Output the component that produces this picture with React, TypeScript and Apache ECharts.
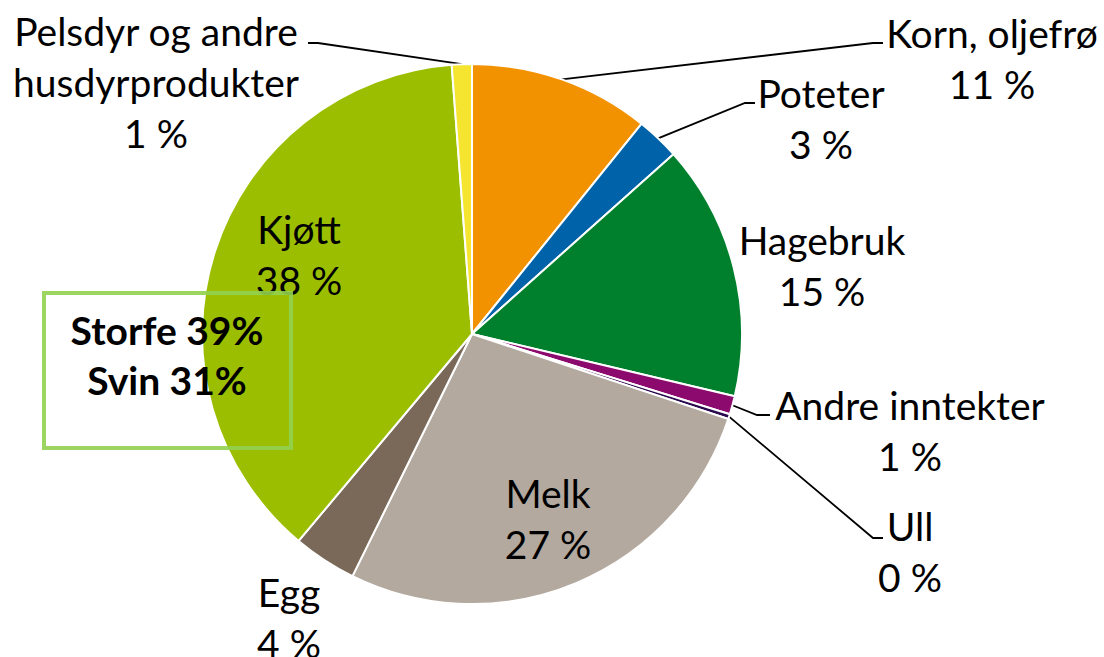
import React, { useEffect, useRef } from "react";
import * as echarts from "echarts";

// Categories (clockwise from 12 o'clock)
const categories = [
  "Korn, oljefrø",
  "Poteter",
  "Hagebruk",
  "Andre inntekter",
  "Ull",
  "Melk",
  "Egg",
  "Kjøtt",
  "Pelsdyr og andre\nhusdyrprodukter",
];
// Shares in percent
const shares = [10.8, 2.6, 15.3, 1.1, 0.3, 27.2, 3.8, 37.7, 1.2];
const colors = [
  "#F39200",
  "#0062A8",
  "#00802D",
  "#8C0A6E",
  "#2B0A4F",
  "#B3A99F",
  "#7A6958",
  "#9BBF00",
  "#F5E531",
];
const boxLines = ["Storfe 39%", "Svin 31%"];

const FONT = "Lato, 'Open Sans', sans-serif";

// label layout (positions only)
const labelCenters: number[][] = [
  [992, 58],
  [821, 118],
  [822, 265],
  [910, 430],
  [910, 551],
  [548, 518],
  [289, 617],
  [299, 254],
  [156, 82],
];
const leaderTail: (number[][] | null)[] = [
  [[873, 43], [883, 43]],
  [[745, 103], [755, 103]],
  null,
  [[757, 415], [770, 415]],
  [[873, 538], [883, 538]],
  null,
  null,
  null,
  [[318, 43], [308, 43]],
];

export default function App() {
  const ref = useRef<HTMLDivElement>(null);
  useEffect(() => {
    if (!ref.current) return;
    const chart = echarts.init(ref.current, null, { renderer: "svg" });
    const cx = 472;
    const cy = 334;
    const R = 270;
    const total = shares.reduce((a, b) => a + b, 0);
    const starts: number[] = [];
    let acc = 0;
    shares.forEach((v) => {
      starts.push(acc);
      acc += v;
    });
    chart.setOption({
      animation: false,
      backgroundColor: "#ffffff",
      series: [
        {
          type: "pie",
          center: [cx, cy],
          radius: [0, R],
          startAngle: 90,
          clockwise: true,
          percentPrecision: 0,
          avoidLabelOverlap: false,
          itemStyle: { borderColor: "#ffffff", borderWidth: 2 },
          label: {
            show: true,
            position: "outside",
            formatter: "{b}\n{d} %",
            color: "#000000",
            fontFamily: FONT,
            fontSize: 39,
            lineHeight: 51,
            align: "center",
          },
          labelLine: {
            show: true,
            lineStyle: { color: "#000000", width: 1.8 },
          },
          labelLayout: (params: any) => {
            const i = params.dataIndex;
            const c = labelCenters[i];
            const out: any = {
              x: c[0],
              y: c[1],
              align: "center",
              verticalAlign: "middle",
            };
            const tail = leaderTail[i];
            if (tail) {
              const mid = ((starts[i] + shares[i] / 2) / total) * Math.PI * 2;
              const sx = cx + R * Math.sin(mid);
              const sy = cy - R * Math.cos(mid);
              out.labelLinePoints = [[sx, sy], tail[0], tail[1]];
            }
            return out;
          },
          data: categories.map((name, i) => ({
            name,
            value: shares[i],
            itemStyle: { color: colors[i] },
            labelLine: { show: leaderTail[i] != null },
          })),
        },
      ],
      graphic: [
        {
          type: "rect",
          shape: { x: 44, y: 293, width: 247, height: 155 },
          style: { fill: "none", stroke: "rgba(146,208,80,0.9)", lineWidth: 4 },
          z: 100,
        },
        {
          type: "text",
          x: 167,
          y: 355,
          style: {
            text: boxLines.join("\n"),
            font: `bold 39px ${FONT}`,
            fill: "#000000",
            align: "center",
            verticalAlign: "middle",
            lineHeight: 50,
          },
          z: 101,
        },
      ],
    });
    return () => chart.dispose();
  }, []);
  return (
    <div
      ref={ref}
      style={{ position: "fixed", left: 0, top: 0, width: 1104, height: 657 }}
    />
  );
}
